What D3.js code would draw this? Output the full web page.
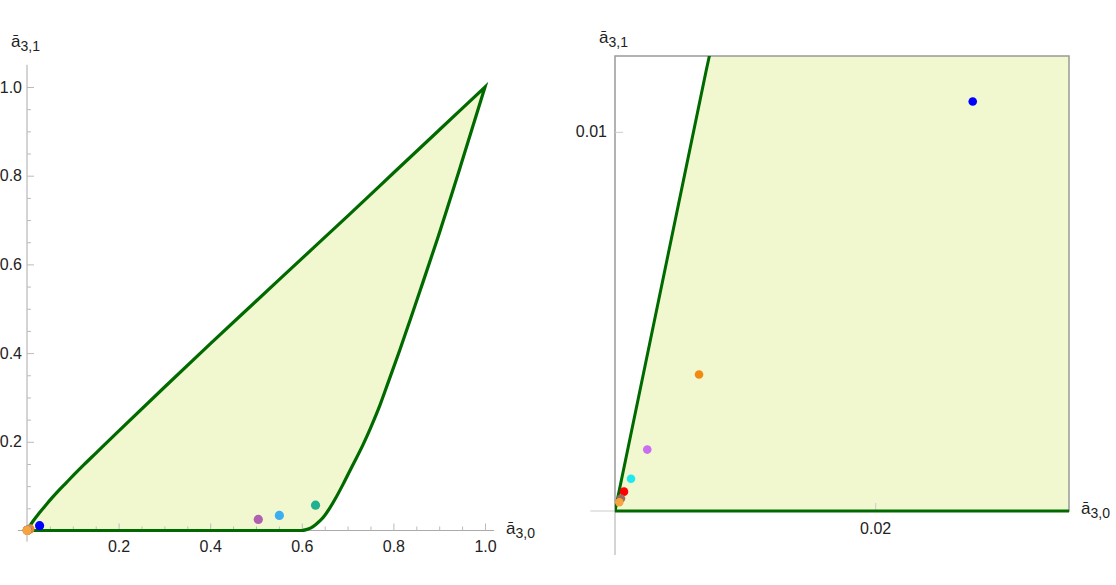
<!DOCTYPE html>
<meta charset="utf-8">
<script src="https://d3js.org/d3.v7.min.js"></script>
<style>
  body { margin: 0; background: #fff; }
  text { font-family: "Liberation Sans", Arial, sans-serif; fill: #222; }
</style>
<div id="chart"></div>
<script>

// boundary of the region
var upperX = [0, 0.007, 0.015, 0.025, 0.04, 0.055, 0.07, 0.085, 0.1, 0.125, 0.15, 0.2, 0.3, 0.4, 0.5, 0.6, 0.7, 0.8, 0.9, 1];
var upperY = [0, 0.0116, 0.0236, 0.037, 0.056, 0.074, 0.091, 0.107, 0.123, 0.149, 0.174, 0.224, 0.323, 0.421, 0.517, 0.613, 0.709, 0.806, 0.903, 1];
var lowerX = [0, 0.6, 0.61, 0.62, 0.63, 0.64, 0.65, 0.66, 0.675, 0.69, 0.71, 0.733, 0.75, 0.77, 0.79, 0.814, 0.836, 0.858, 0.895, 0.95, 1];
var lowerY = [0, 0, 0.002, 0.006, 0.013, 0.022, 0.034, 0.049, 0.075, 0.104, 0.145, 0.192, 0.231, 0.281, 0.338, 0.407, 0.473, 0.54, 0.654, 0.833, 1];

// the points
var pointX = [0.630, 0.551, 0.505, 0.0275, 0.00646, 0.00248, 0.00123, 0.00069, 0.00046, 0.00033];
var pointY = [0.057, 0.034, 0.025, 0.0108, 0.0036, 0.00162, 0.00085, 0.00051, 0.00033, 0.00023];
var pointColors = ["#1fb08f", "#3caff0", "#b060b0", "#0000ff", "#f28a12", "#c86ef0", "#1ee8f0", "#ff0000", "#a06a5a", "#f5a53f"];

// ticks
var leftMajor = [0.2, 0.4, 0.6, 0.8, 1.0];
var leftMinor = [0.05, 0.1, 0.15, 0.25, 0.3, 0.35, 0.45, 0.5, 0.55, 0.65, 0.7, 0.75, 0.85, 0.9, 0.95];
var rightXTicks = [0.02];
var rightYTicks = [0.01];

var fillColor = "#f1f8cf", lineColor = "#006a00";

var upper = upperX.map(function(v, i) { return [v, upperY[i]]; });
var lower = lowerX.map(function(v, i) { return [v, lowerY[i]]; });
var points = pointX.map(function(v, i) { return {x: v, y: pointY[i], c: pointColors[i]}; });

// one closed outline: upper edge out to (1,1), lower edge back to the origin
function outline(x, y) {
  var edge = d3.line().curve(d3.curveMonotoneX)
    .x(function(d) { return x(d[0]); })
    .y(function(d) { return y(d[1]); });
  var back = edge(lower.slice().reverse()).replace(/^M[^CL]*/, "");
  return edge(upper) + back + "Z";
}

var svg = d3.select("#chart").append("svg")
  .attr("width", 1116)
  .attr("height", 585);

function axisLabel(g, x, y, sub) {
  var t = g.append("text").attr("x", x).attr("y", y).attr("font-size", 17);
  t.append("tspan").text("\u0101");
  t.append("tspan").attr("font-size", 14).attr("dy", 4).text(sub);
}

function styleAxis(g, col) {
  g.select(".domain").remove();
  g.selectAll("line").attr("stroke", col);
  g.selectAll("text").attr("font-size", 16).attr("font-family", null).attr("fill", "#222");
}

// ---------- left panel ----------
var x1 = d3.scaleLinear().domain([0, 1]).range([27, 485]);
var y1 = d3.scaleLinear().domain([0, 1]).range([530.5, 87]);
var left = svg.append("g");

left.append("path")
  .attr("d", outline(x1, y1))
  .attr("fill", fillColor);

// axis lines
left.append("line")
  .attr("x1", x1(-0.02)).attr("x2", x1(1.02))
  .attr("y1", y1(0)).attr("y2", y1(0))
  .attr("stroke", "#aaa");
left.append("line")
  .attr("x1", x1(0)).attr("x2", x1(0))
  .attr("y1", y1(-0.025)).attr("y2", y1(1.05))
  .attr("stroke", "#aaa");

// minor ticks
left.append("g")
  .attr("transform", "translate(0," + y1(0) + ")")
  .call(d3.axisBottom(x1).tickValues(leftMinor).tickSize(-4).tickFormat(""))
  .call(styleAxis, "#bbb");
left.append("g")
  .attr("transform", "translate(" + x1(0) + ",0)")
  .call(d3.axisLeft(y1).tickValues(leftMinor).tickSize(-4).tickFormat(""))
  .call(styleAxis, "#bbb");

// major ticks with labels
left.append("g")
  .attr("transform", "translate(0," + y1(0) + ")")
  .call(d3.axisBottom(x1).tickValues(leftMajor).tickSize(-7).tickPadding(10).tickFormat(d3.format(".1f")))
  .call(styleAxis, "#bbb");
left.append("g")
  .attr("transform", "translate(" + x1(0) + ",0)")
  .call(d3.axisLeft(y1).tickValues(leftMajor).tickSize(-7).tickPadding(5).tickFormat(d3.format(".1f")))
  .call(styleAxis, "#bbb");

left.append("path")
  .attr("d", outline(x1, y1))
  .attr("fill", "none")
  .attr("stroke", lineColor)
  .attr("stroke-width", 3.2)
  .attr("stroke-linejoin", "miter")
  .attr("stroke-miterlimit", 10);

left.selectAll("circle")
  .data(points)
  .enter().append("circle")
  .attr("cx", function(d) { return x1(d.x); })
  .attr("cy", function(d) { return y1(d.y); })
  .attr("r", 4.6)
  .attr("fill", function(d) { return d.c; });

axisLabel(left, 11, 47, "3,1");
axisLabel(left, 506, 534, "3,0");

// ---------- right panel ----------
var x2 = d3.scaleLinear().domain([0, 0.0349]).range([615, 1069]);
var y2 = d3.scaleLinear().domain([0, 0.012]).range([511, 56]);
var right = svg.append("g");

right.append("clipPath").attr("id", "frameClip")
  .append("rect")
  .attr("x", x2(0)).attr("y", y2(0.012))
  .attr("width", x2(0.0349) - x2(0)).attr("height", y2(0) - y2(0.012) + 2);

// axis lines outside the frame
right.append("line")
  .attr("x1", x2(-0.0019)).attr("x2", x2(0))
  .attr("y1", y2(0)).attr("y2", y2(0))
  .attr("stroke", "#ccc");
right.append("line")
  .attr("x1", x2(0)).attr("x2", x2(0))
  .attr("y1", y2(0)).attr("y2", y2(-0.00116))
  .attr("stroke", "#aaa");

right.append("path")
  .attr("clip-path", "url(#frameClip)")
  .attr("d", outline(x2, y2))
  .attr("fill", fillColor);

// frame
right.append("rect")
  .attr("x", x2(0)).attr("y", y2(0.012))
  .attr("width", x2(0.0349) - x2(0)).attr("height", y2(0) - y2(0.012))
  .attr("fill", "none")
  .attr("stroke", "#999")
  .attr("stroke-width", 1.5);

right.append("g")
  .attr("transform", "translate(0," + y2(0) + ")")
  .call(d3.axisBottom(x2).tickValues(rightXTicks).tickSize(-8).tickPadding(12).tickFormat(d3.format(".2f")))
  .call(styleAxis, "#ccc");
right.append("g")
  .attr("transform", "translate(" + x2(0) + ",0)")
  .call(d3.axisLeft(y2).tickValues(rightYTicks).tickSize(-8).tickPadding(8).tickFormat(d3.format(".2f")))
  .call(styleAxis, "#ccc");

right.append("path")
  .attr("clip-path", "url(#frameClip)")
  .attr("d", outline(x2, y2))
  .attr("fill", "none")
  .attr("stroke", lineColor)
  .attr("stroke-width", 3);

right.append("g")
  .attr("clip-path", "url(#frameClip)")
  .selectAll("circle")
  .data(points)
  .enter().append("circle")
  .attr("cx", function(d) { return x2(d.x); })
  .attr("cy", function(d) { return y2(d.y); })
  .attr("r", 4.3)
  .attr("fill", function(d) { return d.c; });

axisLabel(right, 599, 43, "3,1");
axisLabel(right, 1081, 514, "3,0");

</script>
